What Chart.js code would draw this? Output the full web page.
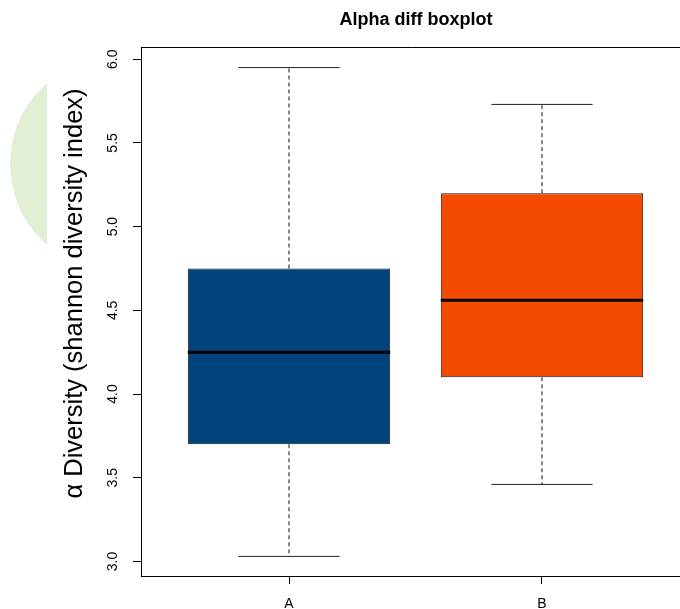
<!DOCTYPE html>
<html>
<head>
<meta charset="utf-8">
<title>Alpha diff boxplot</title>
<script src="https://cdn.jsdelivr.net/npm/chart.js@4/dist/chart.umd.min.js"></script>
<style>
	html, body { margin: 0; padding: 0; background: #fff; }
	#wrap { position: relative; width: 680px; height: 609px; overflow: hidden; }
</style>
</head>
<body>
<div id="wrap"><canvas id="alphaChart"></canvas></div>
<script>
// Shannon diversity per group (five-number summary)
const categories = ['A', 'B'];
const whiskerLow = [3.03, 3.46];
const q1 = [3.70, 4.10];
const medians = [4.25, 4.56];
const q3 = [4.75, 5.20];
const whiskerHigh = [5.95, 5.73];
const boxColors = ['#00447e', '#f44a00'];
const yTicks = [3.0, 3.5, 4.0, 4.5, 5.0, 5.5, 6.0];

const FONT = 'Liberation Sans, Arial, Helvetica, sans-serif';
const BOX_HALF = 0.4;
const CAP_HALF = 0.2;

// line segments joined by null gaps
function segments(list){
	const out = [];
	list.forEach((seg, i) => {
		if(i > 0) out.push({ x: seg[0].x, y: null });
		out.push(seg[0], seg[1]);
	});
	return out;
}

const whiskerData = segments(categories.flatMap((c, i) => [
	[{ x: i + 1, y: q3[i] }, { x: i + 1, y: whiskerHigh[i] }],
	[{ x: i + 1, y: q1[i] }, { x: i + 1, y: whiskerLow[i] }]
]));
const capData = segments(categories.flatMap((c, i) => [
	[{ x: i + 1 - CAP_HALF, y: whiskerHigh[i] }, { x: i + 1 + CAP_HALF, y: whiskerHigh[i] }],
	[{ x: i + 1 - CAP_HALF, y: whiskerLow[i] }, { x: i + 1 + CAP_HALF, y: whiskerLow[i] }]
]));
const medianData = segments(categories.map((c, i) => [
	{ x: i + 1 - BOX_HALF, y: medians[i] }, { x: i + 1 + BOX_HALF, y: medians[i] }
]));

// plot frame, main title, y title and the faint mark at the left
const decorations = {
	id: 'decorations',
	beforeDraw(chart){
		const ctx = chart.ctx;
		ctx.save();
		ctx.beginPath();
		ctx.rect(0, 0, 47, chart.height);
		ctx.clip();
		ctx.fillStyle = '#e3efd5';
		ctx.beginPath();
		ctx.arc(117, 164, 107, 0, Math.PI * 2);
		ctx.fill();
		ctx.restore();
	},
	afterDraw(chart){
		const { ctx, chartArea } = chart;
		ctx.save();
		ctx.strokeStyle = '#000';
		ctx.lineWidth = 1;
		ctx.beginPath();
		ctx.moveTo(Math.round(chartArea.left) + 0.5, Math.round(chartArea.top) + 0.5);
		ctx.lineTo(chart.width + 10, Math.round(chartArea.top) + 0.5);
		ctx.stroke();

		ctx.fillStyle = '#000';
		ctx.font = 'bold 18px ' + FONT;
		ctx.textAlign = 'center';
		ctx.textBaseline = 'alphabetic';
		ctx.fillText('Alpha diff boxplot', 416, 25);

		ctx.translate(82, 293.5);
		ctx.rotate(-Math.PI / 2);
		ctx.font = '25.5px ' + FONT;
		ctx.fillText('\u03b1 Diversity (shannon diversity index)', 0, 0);
		ctx.restore();
	}
};

new Chart(document.getElementById('alphaChart'), {
	type: 'bar',
	data: {
		datasets: [
			{
				type: 'line', label: 'whiskers', data: whiskerData, order: 1,
				borderColor: '#111', borderWidth: 1, borderDash: [4, 3],
				pointRadius: 0, spanGaps: false
			},
			{
				type: 'line', label: 'caps', data: capData, order: 1,
				borderColor: '#222', borderWidth: 1, pointRadius: 0, spanGaps: false
			},
			{
				type: 'line', label: 'medians', data: medianData, order: 0,
				borderColor: '#000', borderWidth: 3, pointRadius: 0, spanGaps: false
			},
			{
				type: 'bar', label: 'boxes', order: 2,
				data: categories.map((c, i) => ({ x: i + 1, y: [q1[i], q3[i]] })),
				backgroundColor: boxColors, borderColor: '#1a1a1a', borderWidth: 1,
				borderSkipped: false, categoryPercentage: 0.8, barPercentage: 1
			}
		]
	},
	options: {
		responsive: true,
		maintainAspectRatio: false,
		animation: false,
		layout: { padding: { top: 47, left: 0, right: 0, bottom: 0 } },
		plugins: { legend: { display: false }, tooltip: { enabled: false }, title: { display: false } },
		scales: {
			x: {
				type: 'linear',
				min: 0.415,
				max: 2.5455,
				offset: false,
				afterBuildTicks: s => { s.ticks = categories.map((c, i) => ({ value: i + 1 })); },
				afterFit: s => { s.height = 33; },
				grid: { offset: false, drawOnChartArea: false, drawTicks: true, tickLength: 8, tickColor: '#000' },
				border: { display: true, color: '#000', width: 1 },
				ticks: {
					padding: 12,
					color: '#000',
					font: { family: FONT, size: 14 },
					maxRotation: 0,
					autoSkip: false,
					callback: v => categories[Math.round(v) - 1] ?? ''
				}
			},
			y: {
				type: 'linear',
				min: 2.913,
				max: 6.073,
				beginAtZero: false,
				afterBuildTicks: s => { s.ticks = yTicks.map(v => ({ value: v })); },
				afterFit: s => { s.width = 141; },
				grid: { drawOnChartArea: false, drawTicks: true, tickLength: 8, tickColor: '#000' },
				border: { display: true, color: '#000', width: 1 },
				ticks: {
					padding: 10,
					color: '#000',
					crossAlign: 'center',
					minRotation: 90,
					maxRotation: 90,
					font: { family: FONT, size: 14 },
					callback: v => Number(v).toFixed(1)
				}
			}
		}
	},
	plugins: [decorations]
});
</script>
</body>
</html>
